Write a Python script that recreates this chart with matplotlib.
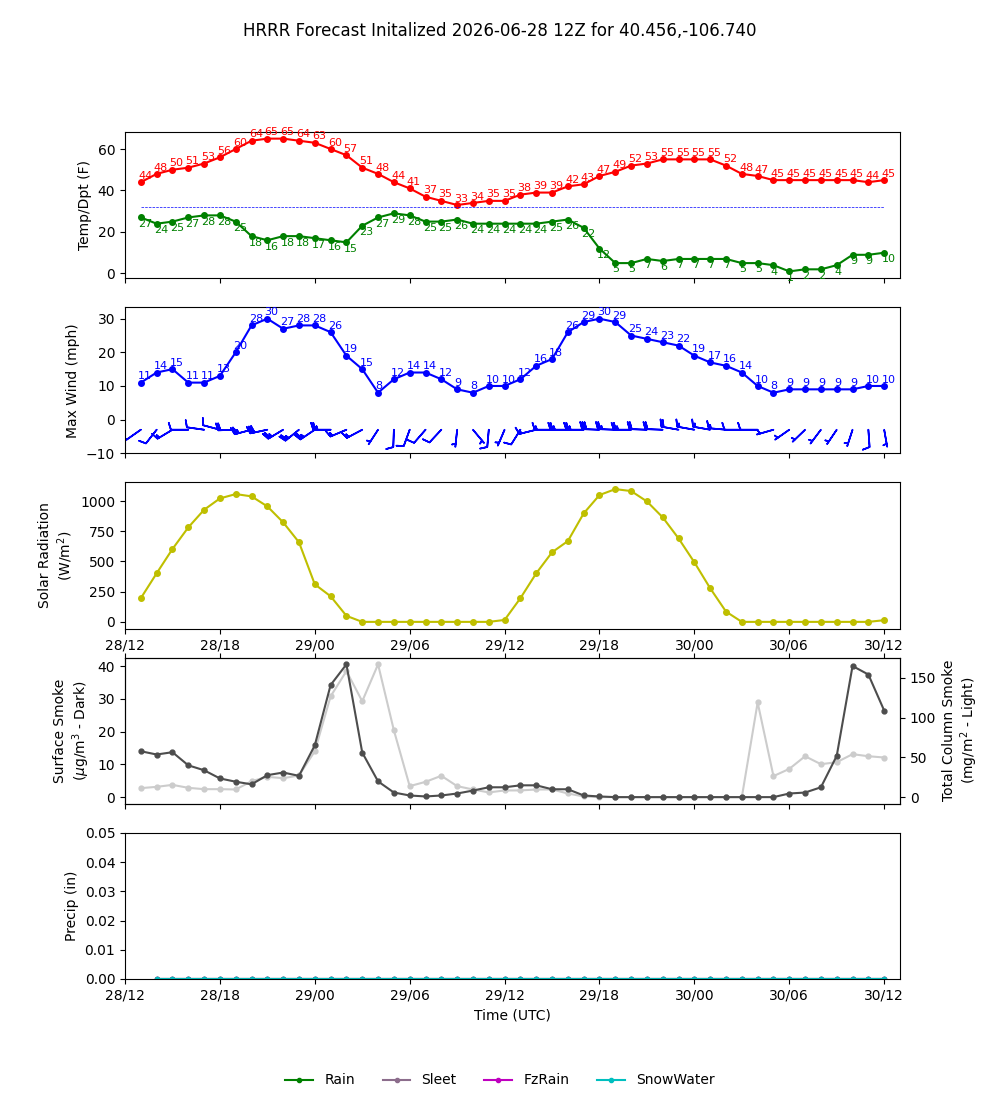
import matplotlib
matplotlib.use('Agg')
import matplotlib.pyplot as plt
import matplotlib.dates as mdates
from datetime import datetime, timedelta
import numpy as np

title = "HRRR Forecast Initalized 2026-06-28 12Z for 40.456,-106.740"
start = datetime(2026, 6, 28, 13)
n_hours = 48
times = [start + timedelta(hours=i) for i in range(n_hours)]

temp = [44, 48, 50, 51, 53, 56, 60, 64, 65, 65, 64, 63, 60, 57, 51, 48, 44, 41, 37, 35,
        33, 34, 35, 35, 38, 39, 39, 42, 43, 47, 49, 52, 53, 55, 55, 55, 55, 52, 48, 47,
        45, 45, 45, 45, 45, 45, 44, 45]
dewpt = [27, 24, 25, 27, 28, 28, 25, 18, 16, 18, 18, 17, 16, 15, 23, 27, 29, 28, 25, 25,
         26, 24, 24, 24, 24, 24, 25, 26, 22, 12, 5, 5, 7, 6, 7, 7, 7, 7, 5, 5,
         4, 1, 2, 2, 4, 9, 9, 10]
freezing = 32

wind = [11, 14, 15, 11, 11, 13, 20, 28, 30, 27, 28, 28, 26, 19, 15, 8, 12, 14, 14, 12,
        9, 8, 10, 10, 12, 16, 18, 26, 29, 30, 29, 25, 24, 23, 22, 19, 17, 16, 14, 10,
        8, 9, 9, 9, 9, 9, 10, 10]
wind_dir = [235, 218, 239, 270, 278, 285, 268, 255, 258, 239, 231, 236, 270, 247, 242, 213,
            182, 200, 221, 223, 186, 140, 185, 203, 212, 256, 270, 270, 270, 272, 272, 270,
            272, 272, 280, 280, 280, 275, 270, 270, 254, 235, 226, 217, 214, 198, 176, 170]

solar = [196, 402, 603, 782, 928, 1022, 1058, 1039, 956, 824, 659, 311, 212, 50, 0, 0,
         0, 0, 0, 0, 0, 0, 0, 16, 196, 402, 576, 669, 898, 1050, 1099, 1083, 997, 865,
         691, 493, 278, 85, 0, 0, 0, 0, 0, 0, 0, 0, 0, 14]

smoke_sfc = [14.0, 13.0, 13.7, 9.7, 8.2, 5.7, 4.7, 3.9, 6.7, 7.5, 6.5, 15.8, 34.2, 40.5,
             13.6, 4.8, 1.4, 0.5, 0.2, 0.5, 1.1, 2.0, 3.0, 3.0, 3.6, 3.6, 2.4, 2.4, 0.5,
             0.2, 0.0, 0.0, 0.0, 0.0, 0.0, 0.0, 0.0, 0.0, 0.0, 0.0, 0.0, 1.1, 1.4, 3.0,
             12.6, 40.0, 37.4, 26.4]
smoke_col = [11.3, 12.9, 15.4, 11.7, 10.0, 10.0, 9.6, 20.0, 25.5, 23.8, 27.2, 57.7, 126.7,
             158.5, 120.5, 166.9, 84.0, 13.8, 19.2, 26.8, 13.8, 9.6, 5.9, 8.4, 8.4, 9.6,
             9.6, 4.6, 0.8, 0.0, 0.0, 0.0, 0.0, 0.0, 0.0, 0.0, 0.0, 0.0, 0.0, 119.0,
             26.4, 35.5, 51.4, 41.4, 43.9, 54.0, 51.4, 49.8]

precip_times = times[1:]
rain = [0.0, 0.0, 0.0, 0.0, 0.0, 0.0, 0.0, 0.0, 0.0, 0.0, 0.0, 0.0, 0.0, 0.0, 0.0, 0.0,
        0.0, 0.0, 0.0, 0.0, 0.0, 0.0, 0.0, 0.0, 0.0, 0.0, 0.0, 0.0, 0.0, 0.0, 0.0, 0.0,
        0.0, 0.0, 0.0, 0.0, 0.0, 0.0, 0.0, 0.0, 0.0, 0.0, 0.0, 0.0, 0.0, 0.0, 0.0]
sleet = [0.0, 0.0, 0.0, 0.0, 0.0, 0.0, 0.0, 0.0, 0.0, 0.0, 0.0, 0.0, 0.0, 0.0, 0.0, 0.0,
         0.0, 0.0, 0.0, 0.0, 0.0, 0.0, 0.0, 0.0, 0.0, 0.0, 0.0, 0.0, 0.0, 0.0, 0.0, 0.0,
         0.0, 0.0, 0.0, 0.0, 0.0, 0.0, 0.0, 0.0, 0.0, 0.0, 0.0, 0.0, 0.0, 0.0, 0.0]
fzrain = [0.0, 0.0, 0.0, 0.0, 0.0, 0.0, 0.0, 0.0, 0.0, 0.0, 0.0, 0.0, 0.0, 0.0, 0.0, 0.0,
          0.0, 0.0, 0.0, 0.0, 0.0, 0.0, 0.0, 0.0, 0.0, 0.0, 0.0, 0.0, 0.0, 0.0, 0.0, 0.0,
          0.0, 0.0, 0.0, 0.0, 0.0, 0.0, 0.0, 0.0, 0.0, 0.0, 0.0, 0.0, 0.0, 0.0, 0.0]
snowwater = [0.0, 0.0, 0.0, 0.0, 0.0, 0.0, 0.0, 0.0, 0.0, 0.0, 0.0, 0.0, 0.0, 0.0, 0.0, 0.0,
             0.0, 0.0, 0.0, 0.0, 0.0, 0.0, 0.0, 0.0, 0.0, 0.0, 0.0, 0.0, 0.0, 0.0, 0.0, 0.0,
             0.0, 0.0, 0.0, 0.0, 0.0, 0.0, 0.0, 0.0, 0.0, 0.0, 0.0, 0.0, 0.0, 0.0, 0.0]

fig, axes = plt.subplots(5, 1, figsize=(10, 11), dpi=100)
ax1, ax2, ax3, ax4, ax5 = axes
fig.suptitle(title)

xmin = times[0] - timedelta(hours=1)
xmax = times[-1] + timedelta(hours=1)

# Panel 1: temperature / dewpoint
ax1.plot(times, temp, '-o', color='red', ms=4, lw=1.5)
ax1.plot(times, dewpt, '-o', color='green', ms=4, lw=1.5)
ax1.plot(times, [freezing] * len(times), '--', color='blue', lw=0.5)
for t, v in zip(times, temp):
    ax1.annotate(f"{v:.0f}", (t, v), xytext=(-2, 1), textcoords='offset points',
                 ha='left', va='bottom', fontsize=8, color='red')
for t, v in zip(times, dewpt):
    ax1.annotate(f"{v:.0f}", (t, v), xytext=(-2, -1), textcoords='offset points',
                 ha='left', va='top', fontsize=8, color='green')
ax1.set_ylabel('Temp/Dpt (F)')

# Panel 2: wind
ax2.plot(times, wind, '-o', color='blue', ms=4, lw=1.5)
for t, v in zip(times, wind):
    ax2.annotate(f"{v:.0f}", (t, v), xytext=(-2, 1), textcoords='offset points',
                 ha='left', va='bottom', fontsize=8, color='blue')
wd = np.deg2rad(np.array(wind_dir, dtype=float))
ws = np.array(wind, dtype=float)
u = -ws * np.sin(wd)
v = -ws * np.cos(wd)
xnum = mdates.date2num(times)
ax2.barbs(xnum, np.full(len(times), -3.0), u, v, length=5, color='blue',
          rounding=False, linewidth=1.2)
ax2.set_ylim(-10, 33.4)
ax2.set_ylabel('Max Wind (mph)')

# Panel 3: solar
ax3.plot(times, solar, '-o', color='y', ms=4, lw=1.5)
ax3.set_ylabel('Solar Radiation\n(W/m$^2$)')

# Panel 4: smoke
ax4b = ax4.twinx()
ax4b.plot(times, smoke_col, '-o', color='0.8', ms=3.5, lw=1.5)
ax4.plot(times, smoke_sfc, '-o', color='0.3', ms=3.5, lw=1.5)
ax4.set_zorder(ax4b.get_zorder() + 1)
ax4.patch.set_visible(False)
ax4.set_ylabel('Surface Smoke\n($\\mu$g/m$^3$ - Dark)')
ax4b.set_ylabel('Total Column Smoke\n(mg/m$^2$ - Light)')
ax4.tick_params(axis='x', top=True)

# Panel 5: precip
h1, = ax5.plot(precip_times, rain, '-o', color='green', ms=3, lw=1.5, label='Rain')
h2, = ax5.plot(precip_times, sleet, '-o', color='#8c6d8c', ms=3, lw=1.5, label='Sleet')
h3, = ax5.plot(precip_times, fzrain, '-o', color='m', ms=3, lw=1.5, label='FzRain')
h4, = ax5.plot(precip_times, snowwater, '-o', color='c', ms=3, lw=1.5, label='SnowWater')
ax5.set_ylim(0, 0.05)
ax5.set_ylabel('Precip (in)')
ax5.set_xlabel('Time (UTC)')

for ax in axes:
    ax.set_xlim(xmin, xmax)
    ax.xaxis.set_major_locator(mdates.HourLocator(byhour=[0, 6, 12, 18]))
    ax.xaxis.set_major_formatter(mdates.DateFormatter('%d/%H'))
for ax in (ax1, ax2, ax4):
    ax.tick_params(axis='x', labelbottom=False)

fig.legend(handles=[h1, h2, h3, h4], loc='lower center', ncol=4, frameon=False)

fig.savefig('out.png', dpi=100)
